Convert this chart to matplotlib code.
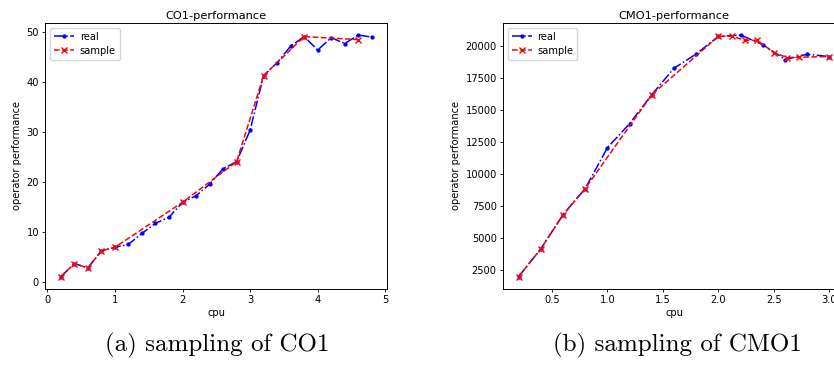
import matplotlib
matplotlib.use('Agg')
import matplotlib.pyplot as plt

# CO1 data
co1_cpu = [0.2, 0.4, 0.6, 0.8, 1.0, 1.2, 1.4, 1.6, 1.8, 2.0, 2.2, 2.4,
           2.6, 2.8, 3.0, 3.2, 3.4, 3.6, 3.8, 4.0, 4.2, 4.4, 4.6, 4.8]
co1_real = [1.05, 3.65, 2.8, 6.2, 6.9, 7.5, 9.7, 11.7, 12.9, 15.9, 17.2, 19.5,
            22.6, 24.0, 30.3, 41.2, 43.8, 47.1, 49.0, 46.3, 48.8, 47.6, 49.3, 48.9]
co1_sample_cpu = [0.2, 0.4, 0.6, 0.8, 1.0, 2.0, 2.8, 3.2, 3.8, 4.6]
co1_sample = [1.05, 3.65, 2.8, 6.2, 6.9, 15.9, 24.0, 41.2, 49.0, 48.4]

# CMO1 data
cmo1_cpu = [0.2, 0.4, 0.6, 0.8, 1.0, 1.2, 1.4, 1.6, 1.8, 2.0, 2.2, 2.4,
            2.6, 2.8, 3.0]
cmo1_real = [2000, 4160, 6830, 8880, 12070, 13960, 16220, 18290, 19400,
             20780, 20880, 20130, 18970, 19380, 19200]
cmo1_sample_cpu = [0.2, 0.4, 0.6, 0.8, 1.4, 2.0, 2.12, 2.24, 2.35, 2.5,
                   2.62, 2.73, 3.0]
cmo1_sample = [2000, 4160, 6830, 8880, 16220, 20780, 20800, 20470, 20470,
               19510, 19120, 19150, 19200]

W, H = 834, 366
fig = plt.figure(figsize=(W / 100, H / 100), dpi=100)

fs = 7.1
lw = 1.1
ms = 4.2


def draw(ax, x, y, xs, ys, title):
    ax.plot(x, y, color='blue', linestyle='-.', marker='.', lw=lw, ms=ms, label='real')
    ax.plot(xs, ys, color='red', linestyle='--', marker='x', lw=lw, ms=ms, label='sample')
    ax.set_title(title, fontsize=8.2, pad=3)
    ax.set_xlabel('cpu', fontsize=fs, labelpad=2)
    ax.set_ylabel('operator performance', fontsize=fs, labelpad=3)
    ax.tick_params(labelsize=fs, length=2.5, width=0.6, pad=2)
    for s in ax.spines.values():
        s.set_linewidth(0.7)
    ax.legend(loc='upper left', fontsize=fs, handlelength=2.0, borderpad=0.4,
              labelspacing=0.4, handletextpad=0.6)


ax1 = fig.add_axes([45.3 / W, (H - 288.7) / H, 342 / W, 265.7 / H])
draw(ax1, co1_cpu, co1_real, co1_sample_cpu, co1_sample, 'CO1-performance')
ax1.set_xticks([0, 1, 2, 3, 4, 5])
ax1.set_yticks([0, 10, 20, 30, 40, 50])

# right panel runs past the figure edge, as in the cropped reference
ax2 = fig.add_axes([503 / W, (H - 288.7) / H, 342 / W, 265.7 / H])
draw(ax2, cmo1_cpu, cmo1_real, cmo1_sample_cpu, cmo1_sample, 'CMO1-performance')
ax2.set_xticks([0.5, 1.0, 1.5, 2.0, 2.5, 3.0])
ax2.set_yticks([2500, 5000, 7500, 10000, 12500, 15000, 17500, 20000])

fig.text(217 / W, 1 - 345 / H, '(a) sampling of CO1', family='cmr10',
         fontsize=18, ha='center', va='center')
fig.text(677 / W, 1 - 345 / H, '(b) sampling of CMO1', family='cmr10',
         fontsize=18, ha='center', va='center')

fig.savefig('out.png', dpi=100)
